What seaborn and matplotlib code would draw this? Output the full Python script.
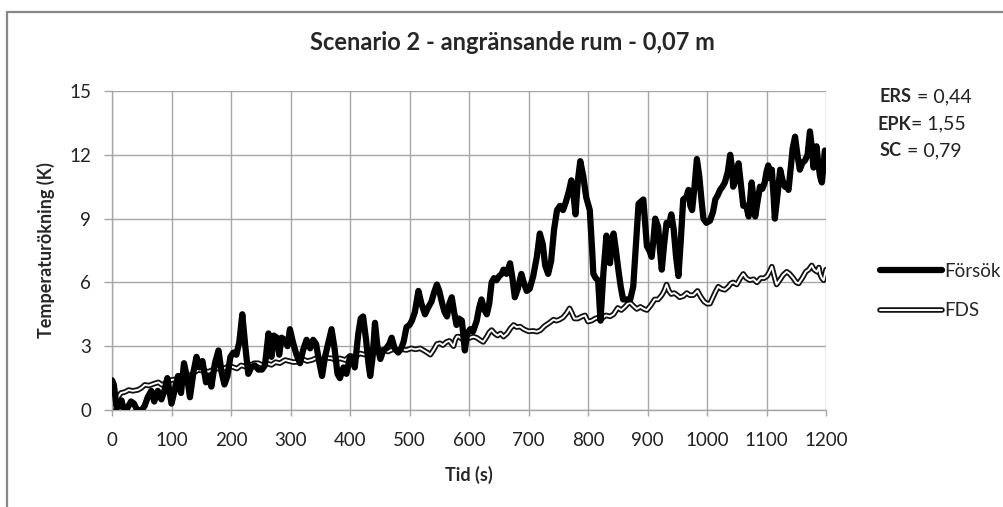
import matplotlib
matplotlib.use("Agg")
import matplotlib.pyplot as plt
import matplotlib.patheffects as pe
import seaborn as sns
import pandas as pd

sns.set_theme(style="white")
plt.rcParams['font.family'] = ['Lato', 'DejaVu Sans']

# Försök (mätning)
forsok_tid = [0, 3, 8, 12, 16, 20, 26, 32, 37, 42, 50, 55, 60, 66, 71, 77, 83, 88, 93, 100,
              106, 111, 116, 121, 127, 131, 137, 142, 147, 152, 158, 163, 167, 173, 179, 184, 189, 194, 199, 204,
              209, 214, 219, 224, 229, 234, 240, 246, 252, 257, 263, 268, 272, 277, 281, 285, 290, 295, 299, 304,
              310, 316, 321, 327, 333, 338, 343, 348, 353, 358, 364, 369, 374, 379, 383, 389, 394, 400, 405, 408,
              414, 418, 422, 427, 431, 434, 438, 442, 446, 451, 456, 461, 466, 470, 475, 481, 486, 490, 495, 500,
              504, 509, 515, 520, 526, 531, 537, 541, 546, 550, 555, 559, 563, 567, 571, 575, 579, 583, 588, 593,
              597, 602, 607, 613, 617, 621, 626, 630, 634, 638, 642, 646, 651, 655, 658, 663, 669, 673, 677, 682,
              688, 692, 697, 702, 708, 714, 719, 724, 728, 733, 738, 743, 748, 753, 758, 763, 768, 772, 776, 779,
              783, 787, 792, 797, 803, 807, 809, 813, 817, 821, 826, 831, 834, 837, 840, 843, 847, 851, 855, 859,
              866, 871, 876, 880, 885, 889, 893, 896, 899, 903, 907, 910, 913, 918, 921, 924, 928, 932, 936, 940,
              944, 948, 952, 956, 960, 965, 969, 972, 975, 979, 983, 987, 991, 994, 999, 1005, 1010, 1014, 1018, 1022,
              1026, 1030, 1035, 1039, 1042, 1044, 1048, 1053, 1057, 1061, 1066, 1070, 1075, 1078, 1081, 1085, 1089, 1093, 1097, 1100,
              1103, 1106, 1109, 1112, 1114, 1118, 1123, 1127, 1131, 1134, 1137, 1140, 1144, 1148, 1152, 1156, 1160, 1165, 1169, 1173,
              1176, 1179, 1182, 1184, 1187, 1190, 1193, 1196, 1198]
forsok_temp = [1.4, 1.2, 0.1, 0.2, 0.45, 0.0, 0.1, 0.4, 0.3, 0.0, 0.0, 0.2, 0.6, 0.9, 0.4, 0.9, 0.5, 0.9, 1.5, 0.3,
               1.0, 1.6, 0.8, 2.2, 1.4, 0.6, 1.8, 2.5, 2.0, 2.3, 1.3, 1.6, 1.1, 2.2, 2.8, 1.8, 1.2, 1.6, 2.5, 2.7,
               2.6, 3.2, 4.5, 3.0, 1.7, 2.0, 2.1, 1.9, 1.9, 2.1, 3.6, 2.5, 3.5, 3.4, 2.6, 3.4, 3.3, 3.0, 3.8, 3.2,
               2.6, 2.2, 2.8, 3.3, 2.9, 3.3, 3.1, 2.3, 1.6, 2.5, 3.2, 3.8, 2.9, 1.7, 1.5, 2.0, 1.7, 2.5, 2.3, 2.0,
               3.6, 4.3, 4.4, 3.3, 2.2, 1.6, 2.5, 4.1, 3.0, 2.4, 2.8, 2.9, 3.1, 3.4, 2.9, 2.7, 2.9, 3.2, 3.9, 4.0,
               4.2, 4.6, 5.6, 5.0, 4.5, 4.8, 5.1, 5.5, 5.9, 5.6, 5.0, 4.6, 4.4, 5.0, 5.3, 4.6, 4.0, 4.3, 4.2, 2.8,
               3.6, 3.8, 3.7, 4.2, 4.8, 5.2, 4.7, 4.5, 5.0, 6.0, 6.2, 6.1, 6.3, 6.4, 6.6, 6.4, 6.9, 6.2, 5.3, 5.7,
               6.4, 6.0, 5.6, 5.7, 6.3, 7.2, 8.3, 7.8, 6.8, 6.4, 7.0, 8.5, 9.4, 9.6, 9.4, 9.8, 10.3, 10.8, 10.0, 9.2,
               10.8, 11.7, 11.0, 10.0, 9.4, 7.5, 6.4, 6.2, 6.1, 4.2, 6.5, 8.2, 7.2, 6.9, 8.0, 8.3, 7.5, 6.6, 5.8, 5.2,
               5.2, 5.2, 5.8, 7.5, 9.7, 9.8, 9.9, 8.8, 7.7, 7.5, 7.2, 8.0, 9.0, 8.6, 7.5, 6.6, 7.8, 8.8, 8.7, 9.2,
               8.5, 7.2, 6.3, 8.0, 9.9, 10.0, 10.35, 9.6, 9.4, 10.5, 11.8, 11.0, 9.8, 9.0, 8.8, 8.9, 9.3, 9.9, 10.1, 10.35,
               10.5, 10.7, 11.2, 12.0, 11.4, 10.5, 10.8, 11.6, 10.6, 9.6, 9.6, 9.1, 10.7, 10.0, 9.1, 9.8, 10.5, 10.4, 10.7, 11.2,
               11.5, 10.9, 11.3, 10.0, 9.0, 10.0, 11.3, 10.8, 10.5, 10.5, 10.35, 11.2, 12.3, 12.85, 12.0, 11.3, 11.6, 11.75, 12.0, 13.1,
               12.4, 11.4, 11.9, 12.4, 11.6, 11.0, 10.7, 11.5, 12.2]

# FDS (simulering)
fds_tid = [0, 5, 10, 15, 22, 28, 35, 44, 50, 55, 62, 72, 78, 84, 92, 100, 108, 115, 123, 130,
           137, 145, 152, 162, 170, 179, 188, 195, 201, 210, 217, 224, 232, 239, 246, 253, 260, 268, 275, 282,
           291, 298, 305, 313, 320, 328, 336, 344, 352, 360, 369, 376, 383, 392, 400, 408, 417, 425, 432, 440,
           448, 456, 464, 472, 480, 488, 495, 503, 510, 518, 524, 530, 535, 541, 546, 551, 556, 562, 567, 571,
           574, 577, 580, 583, 590, 597, 602, 607, 613, 618, 624, 630, 634, 638, 643, 648, 653, 658, 664, 670,
           675, 680, 686, 692, 700, 708, 714, 720, 727, 735, 742, 747, 752, 758, 764, 769, 773, 777, 783, 790,
           795, 800, 806, 812, 818, 823, 830, 837, 843, 850, 856, 862, 867, 871, 876, 882, 888, 894, 899, 905,
           912, 918, 924, 928, 932, 936, 940, 945, 950, 954, 960, 966, 971, 977, 984, 990, 995, 1000, 1005, 1010,
           1015, 1019, 1024, 1030, 1036, 1040, 1044, 1050, 1056, 1061, 1066, 1072, 1078, 1084, 1090, 1096, 1101, 1105, 1109, 1113,
           1117, 1122, 1128, 1134, 1139, 1145, 1150, 1154, 1160, 1166, 1171, 1176, 1180, 1185, 1188, 1190, 1193, 1196, 1200]
fds_temp = [0.1, 0.15, 0.6, 0.8, 0.85, 0.94, 0.9, 0.95, 1.05, 1.18, 1.15, 1.25, 1.3, 1.18, 1.3, 1.41, 1.45, 1.6, 1.65, 1.6,
            1.75, 1.88, 1.85, 1.8, 1.9, 1.96, 1.95, 2.05, 2.04, 1.95, 2.1, 2.04, 2.1, 2.2, 2.2, 2.1, 2.2, 2.12, 2.25, 2.2,
            2.35, 2.3, 2.25, 2.27, 2.4, 2.3, 2.35, 2.45, 2.35, 2.45, 2.43, 2.35, 2.43, 2.35, 2.55, 2.5, 2.66, 2.6, 2.75, 2.7,
            2.8, 2.82, 2.75, 2.85, 2.8, 2.85, 2.82, 2.9, 2.85, 2.9, 2.8, 2.7, 2.6, 2.85, 3.1, 3.14, 3.05, 3.2, 3.25, 3.1,
            3.0, 3.3, 3.45, 3.45, 3.3, 3.35, 3.4, 3.45, 3.4, 3.3, 3.2, 3.45, 3.65, 3.76, 3.6, 3.5, 3.6, 3.45, 3.6, 3.85,
            4.0, 3.9, 3.92, 3.8, 3.7, 3.72, 3.68, 3.75, 3.95, 4.1, 4.25, 4.2, 4.25, 4.35, 4.55, 4.78, 4.55, 4.3, 4.3, 4.4,
            4.45, 4.16, 4.2, 4.3, 4.35, 4.3, 4.45, 4.4, 4.5, 4.8, 4.7, 4.85, 5.0, 5.05, 4.9, 4.75, 4.85, 4.75, 4.7, 4.9,
            5.2, 5.2, 5.4, 5.6, 5.9, 5.6, 5.45, 5.5, 5.4, 5.3, 5.35, 5.5, 5.4, 5.4, 5.6, 5.3, 5.1, 5.0, 5.0, 5.3,
            5.6, 5.8, 5.7, 5.65, 5.8, 5.95, 6.0, 5.9, 6.2, 6.4, 6.2, 6.1, 6.15, 6.0, 6.2, 6.2, 6.3, 6.5, 6.74, 6.3,
            5.9, 6.1, 6.35, 6.5, 6.4, 6.2, 6.0, 5.95, 6.2, 6.5, 6.6, 6.8, 6.6, 6.5, 6.7, 6.4, 6.2, 6.1, 6.6]

df_forsok = pd.DataFrame({'Tid': forsok_tid, 'Temp': forsok_temp})
df_fds = pd.DataFrame({'Tid': fds_tid, 'Temp': fds_temp})

W, H = 1004, 507
fig = plt.figure(figsize=(W / 100, H / 100), dpi=100)
ax = fig.add_axes([112 / W, 1 - 410 / H, (826 - 112) / W, (410 - 91) / H])

grid_col = '#a6a6a6'

sns.lineplot(data=df_forsok, x='Tid', y='Temp', ax=ax, color='black', linewidth=4.5,
             estimator=None, label='Försök', solid_joinstyle='round', zorder=3)
sns.lineplot(data=df_fds, x='Tid', y='Temp', ax=ax, color='white', linewidth=1.4,
             estimator=None, label='FDS', zorder=2,
             path_effects=[pe.Stroke(linewidth=4.0, foreground='#111111'), pe.Normal()])

ax.set_xlim(0, 1200)
ax.set_ylim(0, 15)
ax.set_xticks(range(0, 1201, 100))
ax.set_yticks(range(0, 16, 3))
ax.grid(True, color=grid_col, linewidth=1.0)
for s in ['top', 'right']:
    ax.spines[s].set_visible(False)
for s in ['left', 'bottom']:
    ax.spines[s].set_color(grid_col)
    ax.spines[s].set_linewidth(1.0)
ax.tick_params(axis='x', direction='out', length=4, width=1, color=grid_col, labelsize=13.5, pad=12, labelcolor='#222222')
ax.tick_params(axis='y', direction='out', length=6, width=1, color=grid_col, labelsize=13.5, pad=9, labelcolor='#222222')
ax.tick_params(bottom=True, left=True)

ax.set_xlabel('Tid (s)', fontsize=13, fontweight='bold', labelpad=12)
ax.set_ylabel('Temperaturökning (K)', fontsize=13, fontweight='bold', labelpad=10)

fig.text(512 / W, 1 - 42 / H, 'Scenario 2 - angränsande rum - 0,07 m', fontsize=17,
         fontweight='bold', ha='center', va='center')

# statistik
stats = [('ERS', '= 0,44', 912, 917, 97), ('EPK', '= 1,55', 911, 911, 124), ('SC', '= 0,79', 902, 907, 151)]
for namn, varde, xe, xv, yy in stats:
    fig.text(xe / W, 1 - yy / H, namn, fontsize=13, fontweight='bold', ha='right', va='center')
    fig.text(xv / W, 1 - yy / H, varde, fontsize=14, ha='left', va='center', color='#222222')

ax.legend(loc='upper left', bbox_to_anchor=(880 / W, 1 - 263 / H), bbox_transform=fig.transFigure,
          frameon=False, fontsize=13.5, handlelength=3.3, handletextpad=0.15, labelspacing=1.2,
          borderpad=0, borderaxespad=0)

# ram runt diagrammet
fig.add_artist(plt.Line2D([7 / W, 7 / W], [0, 1 - 12 / H], color='#888888', linewidth=1.6, transform=fig.transFigure))
fig.add_artist(plt.Line2D([7 / W, 1], [1 - 12 / H, 1 - 12 / H], color='#888888', linewidth=1.6, transform=fig.transFigure))

fig.savefig('out.png', dpi=100)
